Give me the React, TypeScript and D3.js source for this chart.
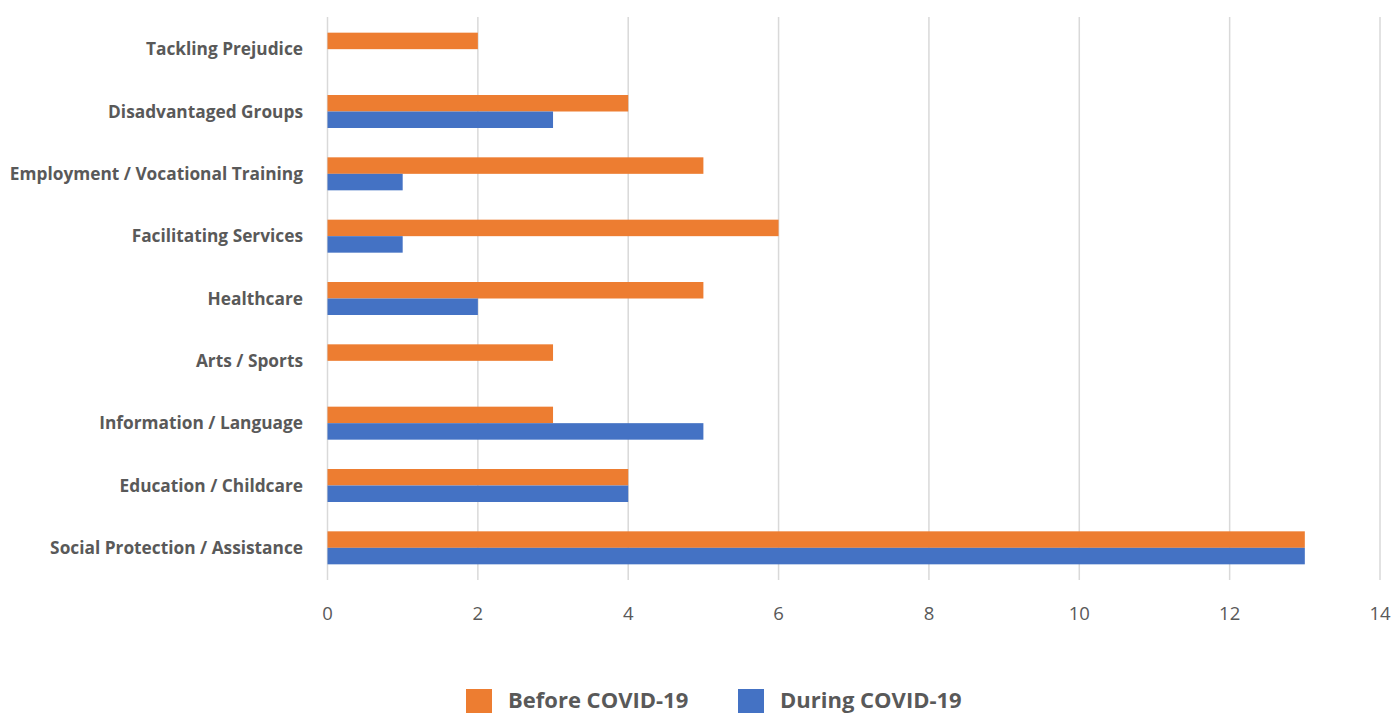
import React from "react";
import * as d3 from "d3";

const categories = [
  "Tackling Prejudice",
  "Disadvantaged Groups",
  "Employment / Vocational Training",
  "Facilitating Services",
  "Healthcare",
  "Arts / Sports",
  "Information / Language",
  "Education / Childcare",
  "Social Protection / Assistance",
];
const beforeCovid = [2, 4, 5, 6, 5, 3, 3, 4, 13];
const duringCovid = [0, 3, 1, 1, 2, 0, 5, 4, 13];
const xTicks = [0, 2, 4, 6, 8, 10, 12, 14];
const seriesNames = ["Before COVID-19", "During COVID-19"];
const seriesColors = ["#ED7D31", "#4472C4"];

const W = 1395;
const H = 713;
const FONT = "'Open Sans', Lato, sans-serif";

const App = () => {
  const x = d3.scaleLinear().domain([0, 14]).range([327.5, 1380]);
  const y = d3.scaleBand<string>().domain(categories).range([18, 579]);
  const barH = 16.5;

  return (
    <svg
      width={W}
      height={H}
      style={{ position: "absolute", left: 0, top: 0, background: "#fff" }}
      fontFamily={FONT}
    >
      {/* gridlines */}
      {xTicks.map((t) => (
        <line
          key={"g" + t}
          x1={x(t)}
          x2={x(t)}
          y1={17}
          y2={580}
          stroke="#d9d9d9"
          strokeWidth={1.5}
        />
      ))}

      {/* bars */}
      {categories.map((c, i) => {
        const mid = (y(c) as number) + y.bandwidth() / 2;
        return (
          <g key={c}>
            {beforeCovid[i] > 0 && (
              <rect
                x={x(0)}
                y={mid - barH}
                width={x(beforeCovid[i]) - x(0)}
                height={barH}
                fill={seriesColors[0]}
              />
            )}
            {duringCovid[i] > 0 && (
              <rect
                x={x(0)}
                y={mid}
                width={x(duringCovid[i]) - x(0)}
                height={barH}
                fill={seriesColors[1]}
              />
            )}
            <text
              x={303}
              y={mid}
              dy="0.35em"
              textAnchor="end"
              fontSize={17.3}
              fontWeight={700}
              fill="#595959"
            >
              {c}
            </text>
          </g>
        );
      })}

      {/* x tick labels */}
      {xTicks.map((t) => (
        <text
          key={"t" + t}
          x={x(t)}
          y={614}
          dy="0.35em"
          textAnchor="middle"
          fontSize={18.5}
          fill="#595959"
        >
          {t}
        </text>
      ))}

      {/* legend */}
      {seriesNames.map((s, i) => {
        const lx = [466, 738][i];
        return (
          <g key={s}>
            <rect x={lx} y={689} width={26} height={26} fill={seriesColors[i]} />
            <text
              x={lx + 42}
              y={708}
              fontSize={22}
              fontWeight={700}
              fill="#595959"
            >
              {s}
            </text>
          </g>
        );
      })}
    </svg>
  );
};

export default App;
